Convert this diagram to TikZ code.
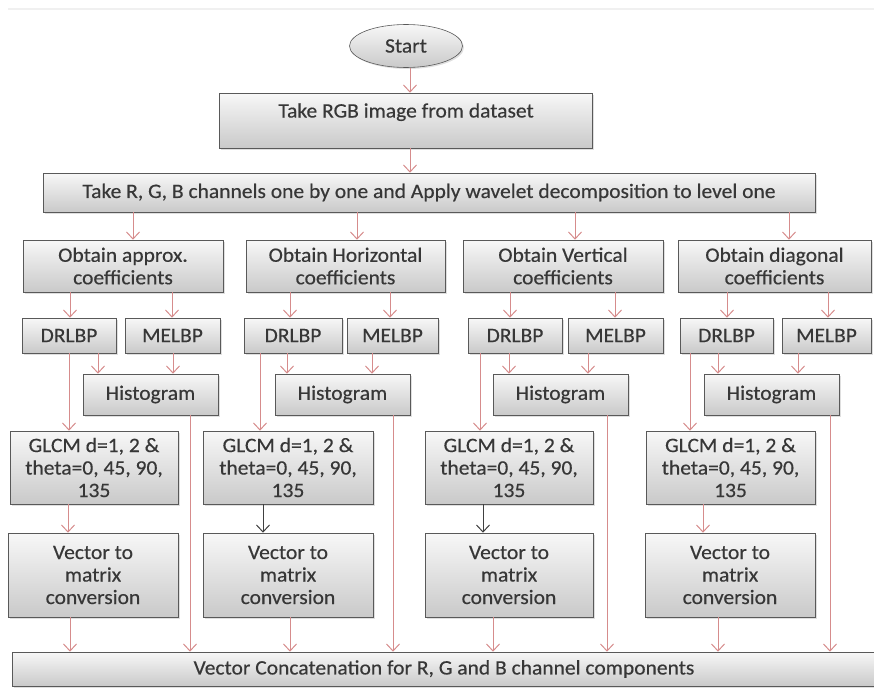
\documentclass[tikz,border=0pt]{standalone}
\usepackage{fontspec}
\setmainfont{Carlito}[FakeBold=0.4,FakeStretch=1.05]
\usetikzlibrary{shapes.geometric}
\usetikzlibrary{arrows.meta}
\usetikzlibrary{shadows}
\definecolor{arrpink}{RGB}{214,140,140}
\definecolor{txtgray}{RGB}{55,55,55}

\begin{document}
\begin{tikzpicture}
	[	x=1pt, y=-1pt,			% one unit = one pixel, y downwards
		box/.style={draw=black!65, semithick, top color=gray!6, bottom color=gray!42,
			drop shadow={opacity=0.25, shadow xshift=1.5pt, shadow yshift=-1.5pt},
			align=center, inner sep=2pt, text=txtgray,
			font=\fontsize{20.5}{22.5}\selectfont},
		arr/.style={arrpink, line width=1pt, -{Straight Barb[length=7pt,width=13pt]}},
		blk/.style={arr, draw=black!75}	]
	\useasboundingbox (0,0) rectangle (874,688);
	\clip (0,0) rectangle (874,688);
	\draw[gray!12, line width=2pt] (8,9) -- (874,9);				% page edge
	% top of the chart
	\node[box, ellipse, minimum width=113, minimum height=43] (start) at (406,46) {Start};
	\node[box, minimum width=373, minimum height=55, text height=13pt, text depth=19pt] (rgb) at (406,120.5) {Take RGB image from dataset};
	\node[box, minimum width=772, minimum height=39] (chan) at (429,192.5) {Take R, G, B channels one by one and Apply wavelet decomposition to level one};
	\node[box, minimum width=864, minimum height=34] (concat) at (444,669) {Vector Concatenation for R, G and B channel components};
	\draw[arr] (start.south -| 410,0) -- (rgb.north -| 410,0);
	\draw[arr] (rgb.south -| 410,0) -- (chan.north -| 410,0);
	% four columns
	\foreach \i/\xa/\xb/\txt in {1/23/223/approx.,2/246/445/Horizontal,3/463/663/Vertical,4/678/871/diagonal}
		\node[box, minimum width=\xb-\xa, minimum height=52] (coef\i) at ({(\xa+\xb)/2},266) {Obtain \txt\\coefficients};
	\foreach \i/\xa/\xb in {1/22/116,2/244/342,3/468/562,4/680/773}
		\node[box, minimum width=\xb-\xa, minimum height=35] (drl\i) at ({(\xa+\xb)/2},335.5) {DRLBP};
	\foreach \i/\xa/\xb in {1/125/220,2/347/438,3/568/663,4/782/871}
		\node[box, minimum width=\xb-\xa, minimum height=35] (mel\i) at ({(\xa+\xb)/2},335.5) {MELBP};
	\foreach \i/\xa/\xb in {1/83/218,2/275/410,3/493/628,4/704/839}
		\node[box, minimum width=\xb-\xa, minimum height=41] (hist\i) at ({(\xa+\xb)/2},394.5) {Histogram};
	\foreach \i/\xa/\xb in {1/10/178,2/203/373,3/425/593,4/646/815}
		\node[box, minimum width=\xb-\xa, minimum height=73] (glcm\i) at ({(\xa+\xb)/2},467.5) {GLCM d=1, 2 \&\\theta=0, 45, 90,\\135};
	\foreach \i/\xa/\xb in {1/8/178,2/203/373,3/425/593,4/645/815}
		\node[box, minimum width=\xb-\xa, minimum height=84] (vec\i) at ({(\xa+\xb)/2},575) {Vector to\\matrix\\conversion};
	% connectors
	\foreach \i/\x in {1/133,2/357,3/575,4/789}
		\draw[arr] (chan.south -| \x,0) -- (coef\i.north -| \x,0);
	\foreach \i/\xa/\xb in {1/70/172,2/290/390,3/510/615,4/727/828} {
		\draw[arr] (coef\i.south -| \xa,0) -- (drl\i.north -| \xa,0);
		\draw[arr] (coef\i.south -| \xb,0) -- (mel\i.north -| \xb,0); }
	\foreach \i/\xa/\xb in {1/98/173,2/287/372,3/509/588,4/718/798} {
		\draw[arr] (drl\i.south -| \xa,0) -- (hist\i.north -| \xa,0);
		\draw[arr] (mel\i.south -| \xb,0) -- (hist\i.north -| \xb,0); }
	\foreach \i/\xa/\xb in {1/69/190,2/260/393,3/480/607,4/690/830} {
		\draw[arr] (drl\i.south -| \xa,0) -- (glcm\i.north -| \xa,0);
		\draw[arr] (hist\i.south -| \xb,0) -- (concat.north -| \xb,0); }
	\foreach \i/\x/\st in {1/68/arr,2/263/blk,3/483/blk,4/703/arr}
		\draw[\st] (glcm\i.south -| \x,0) -- (vec\i.north -| \x,0);
	\foreach \i/\x in {1/70,2/290,3/493,4/718}
		\draw[arr] (vec\i.south -| \x,0) -- (concat.north -| \x,0);
\end{tikzpicture}
\end{document}
